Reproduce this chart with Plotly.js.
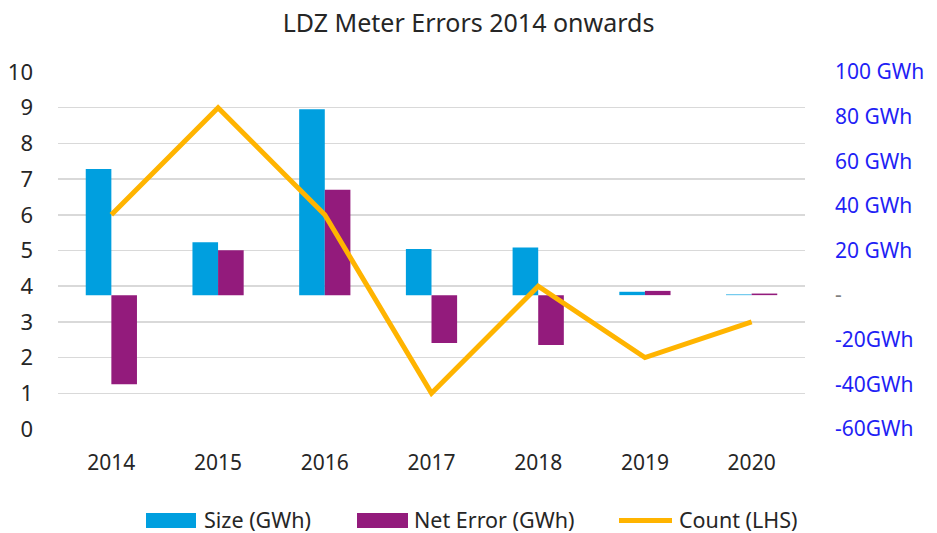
<!DOCTYPE html>
<html>
<head>
<meta charset="utf-8">
<script src="https://cdn.plot.ly/plotly-3.0.1.min.js"></script>
<style>html,body{margin:0;padding:0;background:#fff;}#chart{width:937px;height:533px;}</style>
</head>
<body>
<div id="chart"></div>
<script>
const years = ['2014', '2015', '2016', '2017', '2018', '2019', '2020'];
const sizeGWh = [56.5, 23.7, 83.3, 20.7, 21.4, 1.5, 0.3];
const netErrorGWh = [-39.9, 20.1, 47.2, -21.5, -22.3, 1.9, 0.7];
const countLHS = [6, 9, 6, 1, 4, 2, 3];
const rightTickVals = [-60, -40, -20, 0, 20, 40, 60, 80, 100];
const rightTickText = ['-60GWh', '-40GWh', '-20GWh', '<span style="color:#808080">-</span>', '20 GWh', '40 GWh', '60 GWh', '80 GWh', '100 GWh'];
const leftTickVals = [0, 1, 2, 3, 4, 5, 6, 7, 8, 9, 10];
const seriesNames = ['Size (GWh)', 'Net Error (GWh)', 'Count (LHS)'];
const seriesColors = ['#009FDF', '#931B7C', '#FFB400'];

const font = '"Noto Sans", "Open Sans", sans-serif';
const W = 937, H = 533;
const M = {l: 58, r: 132, t: 72, b: 104};
const pw = W - M.l - M.r, ph = H - M.t - M.b;
const px = v => (v - M.l) / pw;
const py = v => (H - M.b - v) / ph;

const traces = [
  {type: 'bar', name: seriesNames[0], x: years, y: sizeGWh, yaxis: 'y',
   marker: {color: seriesColors[0]}},
  {type: 'bar', name: seriesNames[1], x: years, y: netErrorGWh, yaxis: 'y',
   marker: {color: seriesColors[1]}},
  {type: 'scatter', mode: 'lines', name: seriesNames[2], x: years, y: countLHS, yaxis: 'y2',
   line: {color: seriesColors[2], width: 5}}
];

// custom legend (swatches + labels) placed below the plot
const legendShapes = [
  {type: 'rect', xref: 'paper', yref: 'paper', x0: px(146), x1: px(196), y0: py(528), y1: py(513),
   fillcolor: seriesColors[0], line: {width: 0}},
  {type: 'rect', xref: 'paper', yref: 'paper', x0: px(357), x1: px(408), y0: py(528), y1: py(513),
   fillcolor: seriesColors[1], line: {width: 0}},
  {type: 'line', xref: 'paper', yref: 'paper', x0: px(619), x1: px(672), y0: py(520.5), y1: py(520.5),
   line: {color: seriesColors[2], width: 5}}
];
const legendText = [203, 413, 678].map((x, i) => ({
  xref: 'paper', yref: 'paper', x: px(x), y: py(519.5), xanchor: 'left', yanchor: 'middle',
  borderpad: 0, text: seriesNames[i], showarrow: false, font: {family: font, size: 21.5, color: '#262626'}
}));

const layout = {
  width: W, height: H,
  margin: Object.assign({autoexpand: false}, M),
  paper_bgcolor: '#fff', plot_bgcolor: '#fff',
  font: {family: font, color: '#404040'},
  title: {text: 'LDZ Meter Errors 2014 onwards', x: 0.5, xanchor: 'center', y: 1 - 23 / H, yanchor: 'middle',
          font: {family: font, size: 25, color: '#262626'}},
  barmode: 'group', bargap: 0.52, bargroupgap: 0,
  showlegend: false,
  shapes: legendShapes,
  annotations: legendText,
  xaxis: {type: 'category', showgrid: false, zeroline: false, showline: false, ticks: '',
          ticklabelstandoff: 19,
          tickfont: {family: font, size: 21, color: '#262626'}},
  yaxis: {side: 'right', range: [-60, 100], tickvals: rightTickVals, ticktext: rightTickText,
          showgrid: false, zeroline: false, showline: false, ticks: '', ticklabelstandoff: 29,
          tickfont: {family: font, size: 21, color: '#1F1FF5'}},
  yaxis2: {overlaying: 'y', side: 'left', range: [0, 10], tickvals: leftTickVals,
           showgrid: true, gridcolor: '#D9D9D9', gridwidth: 1.5, zeroline: false, showline: false, ticks: '',
           ticklabelstandoff: 24,
           tickfont: {family: font, size: 22, color: '#262626'}}
};

Plotly.newPlot('chart', traces, layout, {displayModeBar: false, staticPlot: true});
</script>
</body>
</html>
